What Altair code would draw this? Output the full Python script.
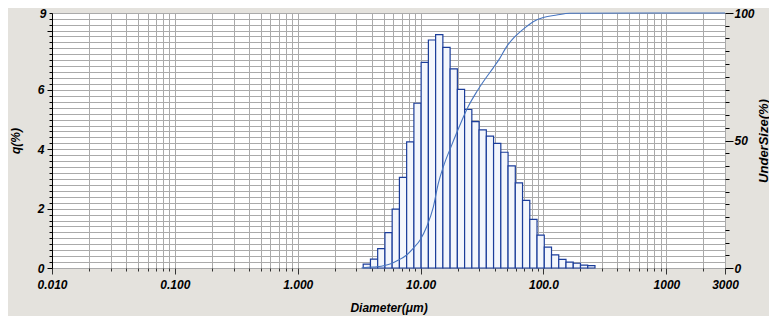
import altair as alt
import pandas as pd

# ---- data ----
# histogram channel edges (um)
bin_edges = [3.409, 3.905, 4.472, 5.122, 5.867, 6.720, 7.697, 8.816, 10.097, 11.565,
             13.246, 15.172, 17.377, 19.904, 22.797, 26.111, 29.907, 34.255, 39.234,
             44.938, 51.471, 58.953, 67.523, 77.339, 88.583, 101.46, 116.21, 133.103,
             152.453, 174.616, 200.0, 229.075, 262.376]
# q (%) per channel
q_values = [0.13, 0.30, 0.65, 1.19, 1.98, 3.05, 4.25, 5.55, 6.93, 7.68,
            7.86, 7.43, 6.71, 6.02, 5.34, 4.93, 4.65, 4.44, 4.20, 3.90,
            3.44, 2.87, 2.28, 1.64, 1.11, 0.70, 0.44, 0.29, 0.20, 0.16,
            0.10, 0.08]
# cumulative undersize curve (%)
cum_diam = [3.3, 3.75, 4.4, 5.1, 5.8, 6.6, 7.7, 8.7, 9.9, 11.2, 12.7, 13.9, 15.3, 17.9,
            20.9, 24.4, 28.6, 33.4, 39.0, 44.2, 50.1, 58.5, 70.6, 82.4, 99.5, 128.0,
            164.0, 3000.0]
cum_pct = [0.0, 0.3, 0.5, 1.0, 1.8, 3.1, 5.1, 7.7, 11.0, 16.2, 24.0, 33.0, 39.7, 48.2,
           56.1, 63.3, 69.1, 74.0, 78.5, 82.3, 86.8, 90.7, 94.2, 96.6, 98.2, 99.2,
           99.9, 100.0]

x_major_values = [0.01, 0.1, 1, 10, 100, 1000, 3000]
x_major_labels = ["0.010", "0.100", "1.000", "10.00", "100.0", "1000", "3000"]
y_left_labels = {0: "0", 2: "2", 4: "4", 6: "6"}
y_left_top = 8.59
y_left_top_label = "9"
y_right_labels = [0, 50, 100]

# ---- tables ----
bars_df = pd.DataFrame({"lo": bin_edges[:-1], "hi": bin_edges[1:], "q": q_values})
line_df = pd.DataFrame({"d": cum_diam, "u": cum_pct})

# ---- axes ----
minor = []
for k in range(-2, 4):
    for m in range(2, 10):
        v = round(m * 10.0 ** k, 6)
        if v < 3000:
            minor.append(v)
x_values = sorted(set(minor + x_major_values))
major_js = "[" + ",".join(str(v) for v in x_major_values) + "]"
x_label_expr = " : ".join(
    f"datum.value == {v} ? '{l}'" for v, l in zip(x_major_values, x_major_labels)
) + " : ''"

FONT = "Liberation Sans"
GRID = "#aaaaaa"

x_axis = alt.Axis(
    values=x_values,
    labelExpr=x_label_expr,
    grid=True, gridColor=GRID, gridWidth=1,
    domain=False,
    tickColor="#333333",
    tickSize={"condition": {"test": f"indexof({major_js}, datum.value) >= 0", "value": 6}, "value": 3},
    labelFont=FONT, labelFontWeight="bold", labelFontStyle="italic", labelFontSize=12,
    labelColor="black", labelPadding=5, labelFlush=False, labelOverlap=False,
    title="Diameter(μm)", titleFont=FONT, titleFontWeight="bold", titleFontStyle="italic",
    titleFontSize=12, titleColor="black", titleX=336.5, titleY=46,
    titleBaseline="bottom", titleAlign="center",
)

y_vals = [round(i * 0.2, 1) for i in range(43)] + [y_left_top]
y_label_expr = f"datum.value > 8.5 ? '{y_left_top_label}' : " + " : ".join(
    f"datum.value == {k} ? '{l}'" for k, l in y_left_labels.items()
) + " : ''"
y_left_axis = alt.Axis(
    orient="left",
    values=y_vals,
    labelExpr=y_label_expr,
    grid=True, gridColor=GRID, gridWidth=1,
    domain=True, domainColor="black", domainWidth=1,
    tickColor="black",
    tickSize={"condition": {"test": "abs(datum.value/2 - round(datum.value/2)) < 0.01", "value": 5}, "value": 3},
    labelFont=FONT, labelFontWeight="bold", labelFontStyle="italic", labelFontSize=12,
    labelColor="black", labelPadding=3, labelFlush=False, labelOverlap=False,
    title="q(%)", titleFont=FONT, titleFontWeight="bold", titleFontStyle="italic",
    titleFontSize=12, titleColor="black", titleX=-37, titleY=127.5, titleAngle=270,
    titleAlign="center", titleBaseline="middle",
)

r_label_expr = " : ".join(f"datum.value == {v} ? '{v}'" for v in y_right_labels) + " : ''"
y_right_axis = alt.Axis(
    orient="right",
    values=list(range(0, 101, 5)),
    labelExpr=r_label_expr,
    grid=False, domain=False,
    tickColor="black",
    tickSize={"condition": {"test": "datum.value % 50 == 0", "value": 8}, "value": 4},
    labelFont=FONT, labelFontWeight="bold", labelFontStyle="italic", labelFontSize=12,
    labelColor="black", labelPadding=1, labelFlush=False, labelOverlap=False,
    title="UnderSize(%)", titleFont=FONT, titleFontWeight="bold", titleFontStyle="italic",
    titleFontSize=13, titleColor="black", titleX=38, titleY=127.5, titleAngle=270,
    titleAlign="center", titleBaseline="middle",
)

x_scale = alt.Scale(type="log", domain=[0.01, 3000], nice=False)

bars = alt.Chart(bars_df).mark_rect(
    fill="#f3f6fc", stroke="#1b3d9a", strokeWidth=1.2
).encode(
    x=alt.X("lo:Q", scale=x_scale, axis=x_axis),
    x2="hi:Q",
    y=alt.Y("q:Q", scale=alt.Scale(domain=[0, y_left_top], nice=False, zero=True), axis=y_left_axis),
    y2=alt.datum(0),
)

line = alt.Chart(line_df).mark_line(
    color="#4674bf", strokeWidth=1.1, interpolate="monotone"
).encode(
    x=alt.X("d:Q", scale=x_scale, axis=x_axis),
    y=alt.Y("u:Q", scale=alt.Scale(domain=[0, 100], nice=False), axis=y_right_axis),
)

chart = alt.layer(bars, line).resolve_scale(y="independent").properties(
    width=673, height=255,
    padding={"left": 44, "top": 5, "right": 44, "bottom": 48},
    autosize=alt.AutoSizeParams(type="none"),
    background="#e4e2dd",
).configure_view(fill="white", stroke="#8a8a8a", strokeWidth=1)

chart.save("out.html", embed_options={"renderer": "svg", "actions": False})
